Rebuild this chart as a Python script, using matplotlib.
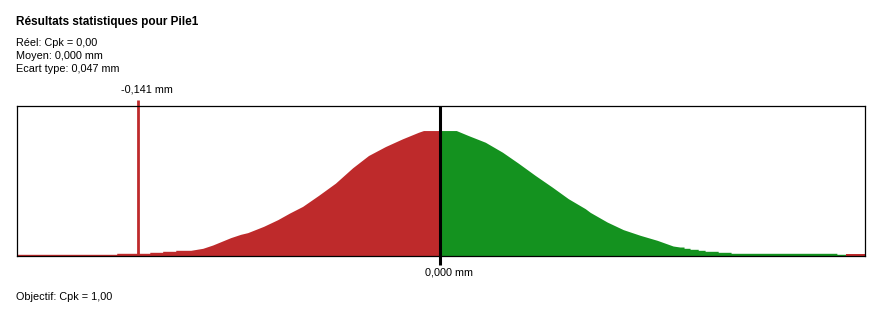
import numpy as np
import matplotlib
matplotlib.use("Agg")
import matplotlib.pyplot as plt

# Distribution profile (x in mm, height in arbitrary units)
x_left = [-0.1973, -0.1508, -0.1508, -0.1354, -0.1354, -0.1294, -0.1294, -0.1233,
          -0.1233, -0.1163, -0.1135, -0.1107, -0.1061, -0.0977, -0.0931, -0.0898,
          -0.0824, -0.0758, -0.0703, -0.0642, -0.0568, -0.0489, -0.0409, -0.0335,
          -0.0256, -0.0177, -0.0102, -0.0079, 0.0]
h_left = [1.7, 1.7, 2.7, 2.7, 3.7, 3.7, 4.7, 4.7,
          5.7, 5.7, 6.7, 7.7, 11.0, 18.4, 21.7, 23.4,
          29.7, 36.4, 43.0, 49.7, 60.7, 73.0, 88.4, 100.7,
          109.7, 117.4, 124.0, 125.7, 125.7]

x_right = [0.0, 0.0074, 0.0130, 0.0209, 0.0289, 0.0363, 0.0442, 0.0521, 0.0596,
           0.0675, 0.0698, 0.0777, 0.0852, 0.0931, 0.1010, 0.1084, 0.1116, 0.1135,
           0.1135, 0.1163, 0.1163, 0.1201, 0.1201, 0.1233, 0.1233, 0.1294, 0.1294,
           0.1354, 0.1354, 0.1847, 0.1847, 0.1889]
h_right = [125.7, 125.7, 120.7, 114.0, 104.0, 93.0, 80.7, 69.0, 57.4,
           47.4, 43.7, 34.0, 26.4, 20.7, 15.7, 10.0, 9.0, 9.0,
           7.7, 7.7, 6.7, 6.7, 5.7, 5.7, 4.7, 4.7, 3.7,
           3.7, 2.7, 2.7, 1.7, 1.7]

x_tail = [0.1889, 0.1978]
h_tail = [1.7, 1.7]

mean_mm = 0.0
limit_mm = -0.141
x_min, x_max = -0.1975, 0.1978

RED = "#be2a2b"
GREEN = "#14921f"

plt.rcParams['font.family'] = ['Liberation Sans', 'DejaVu Sans']

W, H = 875, 311
fig = plt.figure(figsize=(W / 100, H / 100), dpi=100)
fig.patch.set_facecolor("white")

# axes box in pixels: left 16.5, right 865, top 106, bottom 256
ax = fig.add_axes([16.5 / W, (H - 256) / H, (865 - 16.5) / W, (256 - 106) / H])
ax.fill_between(x_left, 0, h_left, color=RED, lw=0)
ax.fill_between(x_right, 0, h_right, color=GREEN, lw=0)
ax.fill_between(x_tail, 0, h_tail, color=RED, lw=0)

ax.set_xlim(x_min, x_max)
ax.set_ylim(0, 150.3)
ax.set_xticks([])
ax.set_yticks([])
for sp in ax.spines.values():
    sp.set_linewidth(0.9)
    sp.set_color("black")

# limit line (sticks out above the box) and mean line (sticks out below)
ax.axvline(limit_mm, ymin=0, ymax=1.04, color=RED, lw=2.0, clip_on=False, solid_capstyle='butt')
ax.axvline(mean_mm, ymin=-0.06, ymax=1.0, color="black", lw=2.2, clip_on=False, solid_capstyle='butt')


def ftext(px, py, s, **kw):
    fig.text(px / W, 1 - py / H, s, va='center', **kw)


ftext(16, 22.5, "Résultats statistiques pour Pile1", fontsize=8.5, fontweight='bold')
ftext(16, 43, "Réel: Cpk = 0,00", fontsize=7.8)
ftext(16, 56, "Moyen: 0,000 mm", fontsize=7.8)
ftext(16, 68.5, "Ecart type: 0,047 mm", fontsize=7.8)
ftext(16, 297, "Objectif: Cpk = 1,00", fontsize=7.8)

# value labels sit slightly right of their lines
px_limit = 16.5 + (limit_mm - x_min) / (x_max - x_min) * (865 - 16.5)
px_mean = 16.5 + (mean_mm - x_min) / (x_max - x_min) * (865 - 16.5)
ftext(px_limit + 9, 90, "-0,141 mm", fontsize=7.8, ha='center')
ftext(px_mean + 9, 272.5, "0,000 mm", fontsize=7.8, ha='center')

fig.savefig("out.png", dpi=100, facecolor="white")
